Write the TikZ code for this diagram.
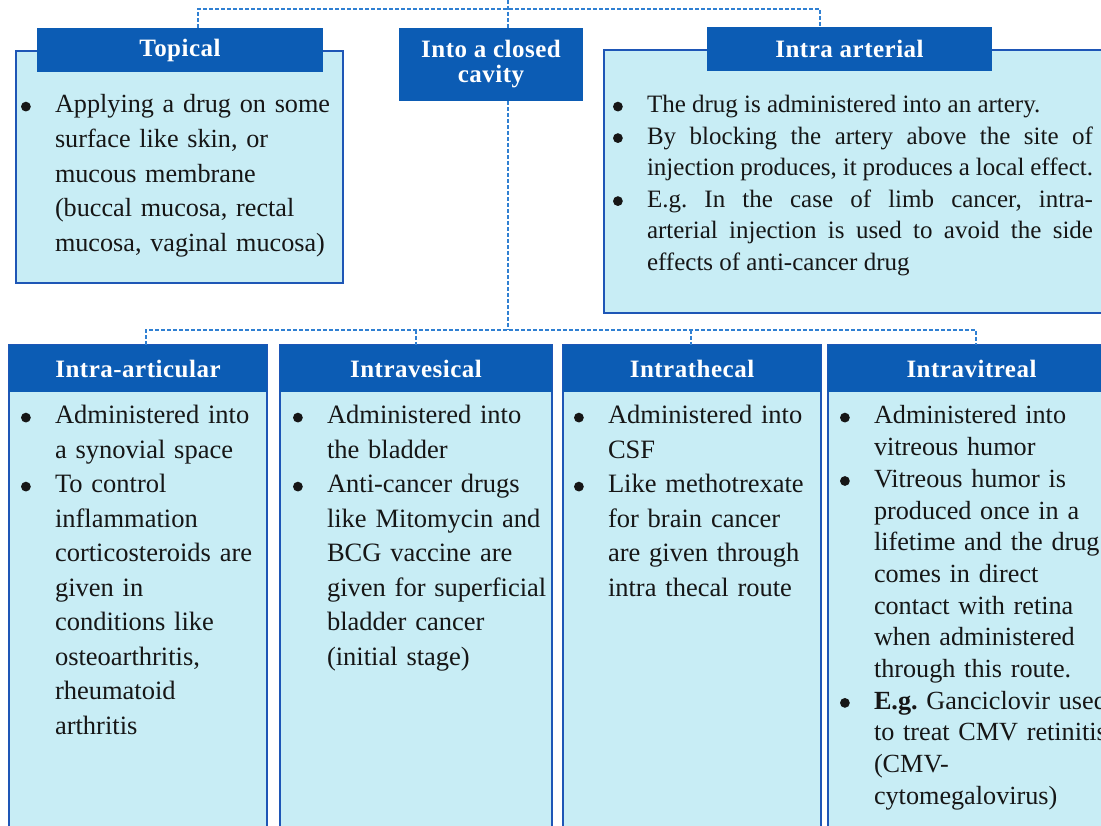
\documentclass[tikz,border=0pt]{standalone}
\usepackage{fontspec}
\setmainfont{Liberation Serif}
\newfontfamily\headfont[LetterSpace=2]{Liberation Serif}

\definecolor{headblue}{RGB}{12,92,180}
\definecolor{bodyfill}{RGB}{200,237,245}
\definecolor{edgeblue}{RGB}{30,86,182}
\definecolor{linkblue}{RGB}{48,128,210}
\definecolor{ink}{RGB}{22,22,22}

% bullet lists with a hanging indent
\newlength\bind
\setlength\bind{34pt}
\newcommand\bdot{\tikz[baseline=0pt]\fill[ink] (4.9pt,6.4pt) circle (4.9pt);}
\newcommand\bstart{\noindent\hangindent=\bind\hangafter=1\makebox[\bind][l]{\bdot}}
\newcommand\bitem{\par\bstart}
\newcommand\nl{\hfil\break}

\tikzset{
  bodybox/.style={draw=edgeblue, line width=1.5pt, fill=bodyfill, rectangle,
    inner sep=0pt, outer sep=0pt, anchor=north west},
  headbox/.style={fill=headblue, rectangle, inner sep=0pt, outer sep=0pt,
    text=white, align=center,
    font=\headfont\bfseries\fontsize{25}{25}\selectfont},
  link/.style={draw=linkblue, line width=1.4pt, dash pattern=on 4pt off 2pt},
  itemtext/.style={anchor=base west, inner sep=0pt, outer sep=0pt, text=ink,
    text width=420pt, align=left,
    font=\fontsize{26.5}{34.5}\selectfont\frenchspacing},
}

\begin{document}
\begin{tikzpicture}[x=1pt,y=-1pt]
\useasboundingbox (0,0) rectangle (1101,826);
\fill[white] (0,0) rectangle (1101,826);
\clip (0,0) rectangle (1101,826);

% ---------- upper row ----------
\node[bodybox, minimum width=327pt, minimum height=232pt] (topicalB) at (16,51) {};
\node[bodybox, minimum width=511pt, minimum height=263pt] (arterialB) at (604,50) {};

\node[headbox, minimum width=286pt, minimum height=44pt] (topicalH) at (180,50) {Topical};
\node[headbox, minimum width=184pt, minimum height=73pt] (cavity) at (491,64.5) {Into a closed\\[0pt]cavity};
\node[headbox, minimum width=285pt, minimum height=44pt] (arterialH) at (849.5,49) {Intra arterial};

\node[itemtext, font=\fontsize{26.2}{34.6}\selectfont\frenchspacing] (topicalT) at (21,113) {%
\bstart Applying a drug on some\nl surface like skin, or\nl mucous membrane\nl (buccal mucosa, rectal\nl mucosa, vaginal mucosa)\par};

\node[itemtext, text width=480pt, align=justify,
      font=\fontsize{25}{31.5}\selectfont\frenchspacing] (arterialT) at (613,113) {%
\tolerance=10000
\bstart The drug is administered into an artery.
\bitem By blocking the artery above the site of\linebreak injection produces, it produces a local effect.
\bitem E.g. In the case of limb cancer, intra-\linebreak arterial injection is used to avoid the side\linebreak effects of anti-cancer drug\par};

% ---------- lower row ----------
\node[bodybox, minimum width=258pt, minimum height=495pt] (articB) at (9,345) {};
\node[bodybox, minimum width=272pt, minimum height=495pt] (vesB) at (280,345) {};
\node[bodybox, minimum width=258pt, minimum height=495pt] (thecB) at (563,345) {};
\node[bodybox, minimum width=287pt, minimum height=495pt] (vitrB) at (828,345) {};

\node[headbox, minimum width=258pt, minimum height=47pt] (articH) at (138,368.5) {Intra-articular};
\node[headbox, minimum width=272pt, minimum height=47pt] (vesH) at (416,368.5) {Intravesical};
\node[headbox, minimum width=258pt, minimum height=47pt] (thecH) at (692,368.5) {Intrathecal};
\node[headbox, minimum width=287pt, minimum height=47pt] (vitrH) at (971.5,368.5) {Intravitreal};

\node[itemtext] (articT) at (21,424) {%
\bstart Administered into\nl a synovial space
\bitem To control\nl inflammation\nl corticosteroids are\nl given in\nl conditions like\nl osteoarthritis,\nl rheumatoid\nl arthritis\par};

\node[itemtext] (vesT) at (293,424) {%
\bstart Administered into\nl the bladder
\bitem Anti-cancer drugs\nl like Mitomycin and\nl BCG vaccine are\nl given for superficial\nl bladder cancer\nl (initial stage)\par};

\node[itemtext] (thecT) at (574,424) {%
\bstart Administered into\nl CSF
\bitem Like methotrexate\nl for brain cancer\nl are given through\nl intra thecal route\par};

\node[itemtext, font=\fontsize{26.2}{31.7}\selectfont\frenchspacing] (vitrT) at (840,424) {%
\bstart Administered into\nl vitreous humor
\bitem Vitreous humor is\nl produced once in a\nl lifetime and the drug\nl comes in direct\nl contact with retina\nl when administered\nl through this route.
\bitem \textbf{E.g.} Ganciclovir used\nl to treat CMV retinitis\nl (CMV-\nl cytomegalovirus)\par};

% ---------- dashed connectors ----------
\coordinate (rootTop) at (508,0);
\coordinate (busL) at (198,9);
\coordinate (busR) at (820,9);
\coordinate (lowMid) at (508,330);
\coordinate (low1) at (146,330);
\coordinate (low2) at (416,330);
\coordinate (low3) at (691,330);
\coordinate (low4) at (976,330);

\draw[link] (topicalH.north -| busL) |- (busR) -- (arterialH.north -| busR);
\draw[link] (rootTop) -- (cavity.north -| rootTop);
\draw[link] (cavity.south -| rootTop) -- (lowMid);
\draw[link] (articH.north -| low1) |- (low4) -- (vitrH.north -| low4);
\draw[link] (low2) -- (vesH.north -| low2);
\draw[link] (low3) -- (thecH.north -| low3);
\end{tikzpicture}
\end{document}
